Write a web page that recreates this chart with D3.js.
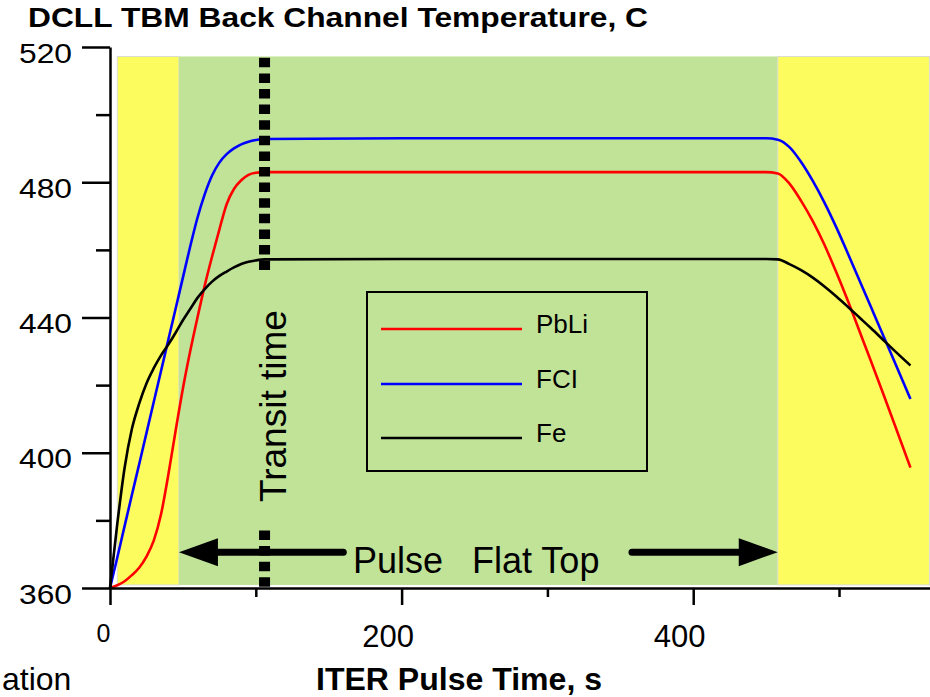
<!DOCTYPE html>
<html>
<head>
<meta charset="utf-8">
<script src="https://cdnjs.cloudflare.com/ajax/libs/d3/7.8.5/d3.min.js"></script>
<style>
  body { margin: 0; background: #fff; }
  text { font-family: "Liberation Sans", Arial, sans-serif; fill: #000; }
</style>
</head>
<body>
<div id="chart"></div>
<script>
// pulse time, s
var time = [0,5,10,15,20,25,30,35,40,45,50,55,60,65,70,75,80,85,90,95,100,106,200,300,400,450,458,466,474,482,490,498,506,514,522,530,538,549];
// temperatures, C
var pbli = [360,360.8,362,363.8,366,369.3,374,381.8,393.5,406.5,419,430,440,449.5,458,466,473.5,478,480.6,482.2,482.8,483,483,483,483,483,482.6,479.6,474.5,468.5,461.5,453.5,445,436,427,417.8,408.5,395.6];
var fci  = [360,369,378.3,387.5,396.6,405.8,415,424.2,433.4,442.6,451.8,461,469.5,476.5,482,485.8,488.3,490,491.2,492,492.5,492.8,493,493,493,493,492.6,490.4,486,480.4,474,466.8,459,451,443,435,427,415.9];
var fe   = [360,379,395.5,407,414.5,420.5,425,428.8,432,435.5,439.2,442.5,445.8,448.4,450.6,452.3,453.6,454.8,455.8,456.5,456.9,457.2,457.3,457.3,457.3,457.3,457.2,455.8,454,451.8,449.2,446.3,443.2,440,436.8,433.5,430.2,425.8];

var seriesNames = ["PbLi", "FCI", "Fe"];
var seriesColors = ["#ff0000", "#0000ff", "#000000"];

var yMajorTicks = [360, 400, 440, 480, 520];
var yMinorTicks = [380, 420, 460, 500];
var xMajorTicks = [0, 200, 400];
var xMinorTicks = [100, 300, 500];

// ramp-up / flat top / ramp-down phases (s)
var phaseStart = [5, 47.3, 458];
var phaseEnd = [47.3, 458, 562];
var phaseColors = ["#fdfc5f", "#c0e398", "#fdfc5f"];

var transitTime = 106;
var arrowFrom = [160, 358];
var arrowTo = [47.3, 458];

// set the dimensions and margins of the graph
var margin = {top: 47, right: 0, bottom: 109, left: 110},
  width = 930 - margin.left - margin.right,
  height = 697 - margin.top - margin.bottom;

var root = d3.select("#chart")
  .append("svg")
    .attr("width", 930)
    .attr("height", 697);

var svg = root.append("g")
    .attr("transform", "translate(" + margin.left + "," + margin.top + ")");

var x = d3.scaleLinear().domain([0, 562.4]).range([0, width]);
var y = d3.scaleLinear().domain([360, 520]).range([height, 0]);

// phase bands
svg.append("g")
  .selectAll("rect")
  .data(phaseStart)
  .enter()
  .append("rect")
    .attr("x", function (d) { return x(d); })
    .attr("y", y(517.2))
    .attr("width", function (d, i) { return x(phaseEnd[i]) - x(d); })
    .attr("height", y(360.9) - y(517.2))
    .style("fill", function (d, i) { return phaseColors[i]; })
    .style("stroke", function (d, i) { return i === 1 ? "none" : "#dcdcd0"; })
    .style("stroke-width", 1);

// curves
var series = [pbli, fci, fe];
var line = d3.line()
  .x(function (d, i) { return x(time[i]); })
  .y(function (d) { return y(d); })
  .curve(d3.curveMonotoneX);

svg.append("g")
  .selectAll("path")
  .data(series)
  .enter()
  .append("path")
    .attr("d", line)
    .style("fill", "none")
    .style("stroke", function (d, i) { return seriesColors[i]; })
    .style("stroke-width", 2.6);

// transit time dotted line
var dottedSpans = [[516.8, 453.2], [377, 359.4]];
svg.append("g")
  .selectAll("line")
  .data(dottedSpans)
  .enter()
  .append("line")
    .attr("x1", x(transitTime))
    .attr("x2", x(transitTime))
    .attr("y1", function (d) { return y(d[0]); })
    .attr("y2", function (d) { return y(d[1]); })
    .style("stroke", "#000")
    .style("stroke-width", 11)
    .style("stroke-dasharray", "9.5,6.1");

svg.append("text")
  .attr("transform", "translate(" + (x(transitTime) + 21) + "," + y(413.8) + ") rotate(-90)")
  .attr("text-anchor", "middle")
  .style("font-size", "37px")
  .text("Transit time");

// pulse flat top arrows
var arrowY = y(370.6);
arrowFrom.forEach(function (t0, i) {
  var x0 = x(t0), x1 = x(arrowTo[i]);
  var dir = x1 > x0 ? 1 : -1;
  var headLen = 39, headHalf = 14;
  svg.append("line")
    .attr("x1", x0).attr("x2", x1 - dir * headLen + dir * 4)
    .attr("y1", arrowY).attr("y2", arrowY)
    .style("stroke", "#000")
    .style("stroke-width", 7)
    .style("stroke-linecap", "round");
  svg.append("path")
    .attr("d", "M" + x1 + "," + arrowY +
               "L" + (x1 - dir * headLen) + "," + (arrowY - headHalf) +
               "L" + (x1 - dir * headLen) + "," + (arrowY + headHalf) + "Z")
    .style("fill", "#000");
});

svg.append("text").attr("x", 353 - margin.left).attr("y", 573 - margin.top)
  .style("font-size", "36px").text("Pulse");
svg.append("text").attr("x", 472 - margin.left).attr("y", 573 - margin.top)
  .style("font-size", "36px").text("Flat Top");

// Add X axis
var xAxis = svg.append("g")
  .attr("transform", "translate(0," + height + ")")
  .call(d3.axisBottom(x).tickValues(xMajorTicks).tickSize(17).tickSizeOuter(0)
    .tickFormat(d3.format("d")));
xAxis.selectAll("text")
  .attr("dy", 0)
  .attr("dx", function (d) { return d === 0 ? -7 : -14; })
  .style("font-size", function (d) { return d === 0 ? "25px" : "31px"; })
  .attr("y", function (d) { return d === 0 ? 54 : 59; });

var xMinor = svg.append("g")
  .attr("transform", "translate(0," + height + ")")
  .call(d3.axisBottom(x).tickValues(xMinorTicks).tickSize(9).tickFormat(""));
xMinor.select(".domain").remove();

// Add Y axis
var yAxis = svg.append("g")
  .call(d3.axisLeft(y).tickValues(yMajorTicks).tickSize(28).tickSizeOuter(0).tickPadding(10));
yAxis.selectAll("text")
  .attr("dy", 15)
  .style("font-size", "28px")
  .attr("textLength", 53)
  .attr("lengthAdjust", "spacingAndGlyphs");

var yMinor = svg.append("g")
  .call(d3.axisLeft(y).tickValues(yMinorTicks).tickSize(14).tickFormat(""));
yMinor.select(".domain").remove();

root.selectAll(".domain, .tick line")
  .style("stroke", "#000")
  .style("stroke-width", 2.5);

// legend
var legend = svg.append("g");
legend.append("rect")
  .attr("x", 367 - margin.left).attr("y", 292 - margin.top)
  .attr("width", 280).attr("height", 179)
  .style("fill", "none").style("stroke", "#000").style("stroke-width", 2);
var legendY = [329, 384, 438];
seriesNames.forEach(function (name, i) {
  legend.append("line")
    .attr("x1", 381 - margin.left).attr("x2", 522 - margin.left)
    .attr("y1", legendY[i] - margin.top).attr("y2", legendY[i] - margin.top)
    .style("stroke", seriesColors[i]).style("stroke-width", 2.6);
  legend.append("text")
    .attr("x", 536 - margin.left).attr("y", legendY[i] + 4 - margin.top)
    .style("font-size", "26px")
    .text(name);
});

// titles
root.append("text").attr("x", 28).attr("y", 27)
  .style("font-size", "27px").style("font-weight", "bold")
  .attr("textLength", 620).attr("lengthAdjust", "spacingAndGlyphs")
  .text("DCLL TBM Back Channel Temperature, C");
root.append("text").attr("x", 316).attr("y", 690)
  .style("font-size", "31px").style("font-weight", "bold")
  .attr("textLength", 286).attr("lengthAdjust", "spacingAndGlyphs")
  .text("ITER Pulse Time, s");
root.append("text").attr("x", 2).attr("y", 690)
  .style("font-size", "32px")
  .text("ation");
</script>
</body>
</html>
